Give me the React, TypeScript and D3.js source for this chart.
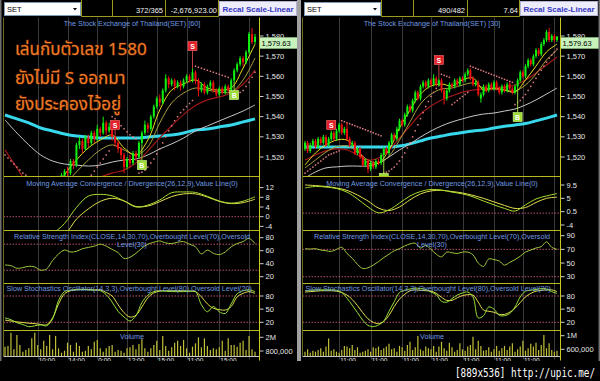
import React from "react";
import * as d3 from "d3";

// ================= LEFT CHART : SET [60] =================
const leftOpen = [1506,1503,1505,1501,1502,1499,1500,1497,1499,1496, 1498,1495,1497,1494,1496,1498,1500,1502,1505,1508, 1510,1513,1512,1518,1516,1526,1528,1524,1530,1527, 1532,1529,1534,1532,1537,1533,1535,1530,1527,1524, 1521,1515,1519,1517,1522,1520,1527,1532,1536,1534, 1540,1545,1549,1547,1553,1559,1556,1558,1555,1557, 1555,1558,1560,1558,1562,1558,1553,1556,1552,1555, 1557,1553,1551,1554,1552,1555,1553,1558,1563,1566, 1569,1567,1572,1581,1577];
const leftClose = [1503,1505,1501,1502,1499,1500,1497,1499,1496,1498, 1495,1497,1494,1496,1498,1500,1502,1505,1508,1511, 1513,1512,1518,1516,1526,1528,1524,1530,1527,1532, 1529,1534,1532,1537,1533,1535,1530,1527,1524,1521, 1515,1519,1517,1522,1520,1527,1532,1536,1534,1540, 1545,1549,1547,1553,1559,1556,1558,1555,1557,1555, 1558,1560,1558,1562,1558,1553,1556,1552,1555,1557, 1553,1551,1554,1552,1555,1553,1558,1563,1566,1569, 1567,1572,1581,1577,1579.63];
const leftHigh = [1507,1506,1506,1503,1503,1501,1501,1500,1500,1499, 1499,1498,1498,1497,1499,1501,1503,1506,1509,1512, 1514,1515,1519,1519,1527,1530,1529,1531,1531,1533, 1533,1536,1535,1540,1538,1537,1536,1531,1528,1525, 1522,1520,1521,1523,1523,1528,1533,1538,1537,1541, 1546,1550,1551,1554,1561,1560,1559,1559,1558,1558, 1559,1561,1561,1564,1563,1559,1557,1557,1556,1558, 1558,1554,1555,1555,1556,1556,1559,1564,1567,1570, 1570,1573,1582,1584,1581];
const leftLow = [1502,1502,1500,1499,1498,1497,1496,1496,1495,1495, 1494,1494,1493,1493,1495,1497,1499,1501,1504,1507, 1509,1510,1511,1514,1515,1524,1522,1523,1525,1526, 1527,1528,1530,1531,1531,1532,1528,1525,1522,1519, 1512,1514,1515,1516,1518,1519,1526,1531,1532,1533, 1539,1544,1545,1546,1552,1554,1555,1553,1554,1553, 1554,1557,1557,1557,1556,1550,1552,1551,1551,1554, 1552,1550,1550,1551,1551,1552,1551,1557,1562,1565, 1565,1566,1571,1576,1576];
// volume in thousands
const leftVolume = [1180,1240,2400,950,2200,1330,740,890,1030,1910, 2400,1330,950,1700,1240,2200,950,2110,1030,650, 830,1530,1330,740,1530,1240,740,830,1240,950, 1620,1760,1030,740,1030,1240,1330,740,890,830, 650,1030,1120,1330,950,1410,1820,1030,740,1030, 1330,1700,890,2110,1240,830,1120,1530,1700,1240, 1760,1030,650,1180,1470,2000,1120,1910,1240,890, 1030,950,1120,1700,830,1910,1330,1330,1180,1530, 1700,890,2110,950,740];
const leftSar = [1521,1519.5,1518,1516.5,1515,1513.5,1512,1511,1510,1509, 1508,1507,1506,1505.5,1505,1504.5,1504,1503.5,1503,1495, 1496,1497,1498,1499.5,1501,1503,1505,1507,1509,1511, 1513,1515,1517,1519,1521,1523,1540,1539,1537,1535.5, 1534,1532.5,1531,1530,1529,1512,1512.5,1513.5,1515,1517, 1519,1521.5,1524,1527,1530,1533,1535.5,1538,1540,1542, 1543.5,1545,1546.5,1548,1565,1564.5,1564,1563.5,1563,1562.5, 1562,1561.5,1561,1560.5,1560,1559.5,1550,1550.5,1551,1552, 1553,1555,1557,1559.5,1562];
// moving averages, one value every 4 bars
const leftMaCyan = [1540.8,1538.9,1536.9,1534.4,1532.9,1531.4,1530.4,1529.9,1529.4,1529.4,1529.4,1529.4,1529.9,1530.4,1530.9,1531.9,1533.4,1533.9,1534.9,1535.9,1537.4,1538.9];
const leftMaGray = [1538.4,1531.9,1526.0,1521.0,1518.0,1516.5,1516.0,1515.5,1516.0,1517.5,1518.5,1519.0,1521.0,1524.0,1526.5,1529.4,1532.9,1535.4,1537.9,1540.3,1542.8,1545.8];
const leftMaRed = [1523.5,1514.6,1506,1502,1501,1502,1504,1507,1510,1512,1513.5,1517,1523,1529.5,1535.5,1541,1545.5,1548.3,1549.8,1551.7,1556.2,1563.1];
const leftMaYellow = [1503,1501,1498,1496,1499,1511.1,1518.5,1524.5,1528.4,1530.9,1524.5,1521.0,1528.4,1543.3,1553.2,1556.2,1558.2,1554.2,1553.2,1554.2,1564.1,1576.0];
const leftMaOlive = [1505,1503,1500,1498,1499,1506.1,1512.6,1518.5,1523.5,1526.0,1523.5,1521.0,1525.0,1536.9,1546.8,1551.7,1554.2,1553.2,1552.2,1552.2,1558.2,1569.1];
// MACD, one value every 4 bars
const leftMacd = [-12,-12,-11.5,-10,-7,-2.8,3.8,8.5,9.2,8.6,6.5,4.0,4.8,6.9,9.9,10.2,10.0,8.4,6.5,5.6,6.4,8.2];
const leftMacdSignal = [-10,-10.5,-10.5,-10,-9.5,-7.5,-1.0,3.2,6.3,7.6,6.5,4.2,4.4,6.2,8.3,9.4,9.4,8.1,6.3,5.4,5.8,7.2];
// RSI and stochastics, one value every 2 bars
const leftRsi = [38,37,33,34,36,35,30,32,45,55, 61,58,59,63,65,67,70,67,62,57, 48,50,56,64,70,73,75,72,71,73, 74,70,66,55,61,56,54,58,66,71, 74,79,71];
const leftStochK = [30,26,19,15,10,12,14,12,28,70, 90,93,95,95,94,93,92,83,66,45, 32,23,35,65,82,90,92,91,90,90, 90,91,90,60,44,56,44,40,62,85, 92,94,90];
const leftStochD = [25,23,21,19.5,18,17,15,14.5,30,62, 85,92,94,95,95,94,94,88,80,60, 42,32,36,55,76,87,91,92,92,92, 92,91,90,78,62,52,49,48,56,78, 86,90,86];
const leftSignalIdx = [37, 46, 63, 77];
const leftSignalType = ["S", "B", "S", "B"];
const leftSignalPrice = [1535.9, 1516, 1575, 1550.7];
const leftGridIdx = [11, 21, 31, 41, 51, 61, 72, 82];
const leftTimeLabels = ["10:00", "14:00", "0:00", "12:00", "15:00", "11:00", "15:00"];
const leftMacdTicks = [12, 8, 4, 0, -4];
const leftRsiTicks = [80, 60, 40, 20];
const leftVolTicks = [2000, 800];
const leftVolTickLabels = ["2M", "800,000"];
const leftHeader = ["372/365", "-2,676,923.00"];

// ================= RIGHT CHART : SET [30] =================
const rightOpen = [1524,1527,1523,1526,1528,1525,1529,1527,1530,1526, 1529,1532,1529,1533,1536,1532,1534,1529,1526,1527, 1522,1524,1520,1516,1518,1514,1517,1515,1518,1517, 1521,1524,1522,1527,1531,1529,1534,1538,1536,1541, 1545,1543,1548,1552,1549,1555,1557,1555,1558,1556, 1559,1556,1558,1553,1549,1553,1556,1555,1558,1556, 1559,1558,1561,1563,1559,1556,1557,1549,1551,1555, 1553,1556,1554,1557,1554,1552,1555,1553,1556,1554, 1552,1555,1558,1562,1560,1565,1568,1566,1570,1573, 1571,1576,1578,1582,1578,1580,1578];
const rightClose = [1527,1523,1526,1528,1525,1529,1527,1530,1526,1529, 1532,1529,1533,1536,1532,1534,1529,1526,1527,1522, 1524,1520,1516,1518,1514,1517,1515,1518,1517,1521, 1524,1522,1527,1531,1529,1534,1538,1536,1541,1545, 1543,1548,1552,1549,1555,1557,1555,1558,1556,1559, 1556,1558,1553,1549,1553,1556,1555,1558,1556,1559, 1558,1561,1563,1559,1556,1557,1551,1551,1555,1553, 1556,1554,1557,1554,1552,1555,1553,1556,1554,1552, 1555,1558,1562,1560,1565,1568,1566,1570,1573,1571, 1576,1578,1582,1578,1580,1578,1579.63];
const rightHigh = [1528,1528,1527,1529,1529,1530,1530,1531,1531,1530, 1533,1533,1534,1537,1537,1535,1537,1530,1528,1528, 1525,1525,1521,1519,1519,1518,1518,1519,1519,1522, 1525,1525,1528,1532,1532,1535,1539,1539,1542,1546, 1546,1549,1553,1553,1556,1558,1558,1559,1559,1561, 1560,1559,1559,1554,1554,1557,1557,1559,1559,1560, 1560,1562,1564,1564,1560,1558,1558,1552,1556,1556, 1557,1557,1558,1558,1555,1556,1556,1557,1557,1555, 1556,1559,1563,1563,1566,1569,1569,1571,1574,1574, 1577,1579,1583,1584,1581,1581,1580];
const rightLow = [1523,1522,1522,1525,1524,1524,1526,1526,1525,1525, 1528,1528,1528,1532,1531,1531,1528,1525,1525,1521, 1521,1519,1515,1515,1512,1513,1514,1514,1516,1516, 1520,1521,1521,1526,1528,1528,1533,1535,1535,1540, 1542,1542,1547,1548,1548,1554,1554,1554,1555,1555, 1555,1555,1552,1546,1548,1552,1554,1554,1555,1555, 1557,1557,1560,1558,1555,1555,1550,1547,1550,1552, 1552,1553,1553,1553,1551,1551,1552,1552,1553,1551, 1551,1554,1557,1559,1559,1564,1565,1565,1569,1570, 1570,1575,1577,1577,1577,1577,1577];
const rightVolume = [530,600,500,560,530,580,630,530,680,920, 560,600,530,500,580,700,680,630,730,580, 660,500,530,560,600,530,660,630,680,580, 630,680,760,600,630,530,700,660,560,730, 820,580,660,990,600,560,680,630,600,700, 530,680,820,630,560,790,660,530,580,780, 600,560,680,730,970,600,850,700,560,580, 660,530,600,700,560,630,700,580,680,780, 530,600,680,850,560,630,760,680,790,580, 730,1020,630,780,580,530,560];
const rightSar = [1512,1513,1514,1515,1516,1517,1518,1519,1520,1521, 1521.5,1522,1522.5,1523,1538,1537.5,1537,1536.5,1536,1535.5, 1535,1534.5,1534,1533.5,1533,1532.5,1532,1531.5,1531,1530.5, 1512,1512.5,1513,1514,1515,1516.5,1518,1520,1522,1524.5, 1527,1530,1533,1536,1539,1542,1545,1547.5,1550,1552, 1554,1555.5,1561,1560.5,1560,1559.5,1546,1547,1548,1549, 1550,1551,1552,1565,1564.5,1564,1563.5,1563,1562.5,1562, 1561.5,1561,1560.5,1560,1559.5,1559,1558.5,1558,1557.5,1557, 1546,1547,1548,1549.5,1551,1553,1555,1557,1559,1561, 1563,1565,1567,1569,1570.5,1572,1573.5];
const rightMaCyan = [1525.0,1525.0,1525.0,1525.0,1525.0,1525.0,1525.0,1525.0,1525.0,1525.5,1526.5,1528.0,1529.4,1530.4,1531.4,1532.2,1532.9,1533.4,1534.4,1535.2,1535.9,1536.6,1537.9,1539.3,1540.8];
const rightMaGray = [1509.6,1512.6,1514.6,1515.1,1515.5,1515.5,1515.5,1517.0,1520.0,1523.5,1526.5,1529.9,1532.9,1535.4,1537.4,1538.9,1540.3,1541.3,1541.8,1542.8,1543.8,1545.8,1548.3,1551.2,1554.2];
const rightMaRed = [1518.5,1521.0,1523.0,1524.0,1523.5,1521.0,1518.5,1519.5,1523.5,1529.4,1535.4,1541.3,1545.3,1548.3,1550.3,1552.2,1553.2,1553.7,1554.2,1554.7,1555.7,1558.2,1561.7,1565.6,1569.6];
const rightMaYellow = [1516.0,1522.0,1526.0,1528.4,1528.4,1523.5,1517.0,1517.0,1523.5,1534.4,1543.3,1551.2,1555.2,1556.2,1555.2,1558.2,1559.2,1553.2,1554.2,1553.2,1552.2,1558.2,1565.1,1572.1,1576.0];
const rightMaOlive = [1514.6,1518.5,1522.5,1525.0,1525.5,1522.5,1518.5,1517.0,1520.5,1528.4,1537.4,1546.3,1551.2,1553.7,1554.2,1555.7,1556.7,1554.2,1553.7,1553.2,1552.7,1555.7,1561.2,1568.1,1573.1];
const rightMacd = [8.5,9.0,8.8,8.3,7.1,4.8,2.1,0.1,1.1,3.4,5.8,7.3,8.0,7.8,7.1,6.5,5.5,4.1,2.8,1.6,0.7,2.8,4.8,5.8,6.6];
const rightMacdSignal = [9.5,9.3,9.0,8.5,7.7,6.1,4.1,1.7,0.9,2.1,4.5,6.5,7.5,7.7,7.3,6.8,6.0,5.0,3.8,2.6,1.6,1.9,3.6,5.0,5.4];
const rightRsi = [71,70.5,71,69,68,67,70,73,64,57, 48,42,43,47,52,58,63,68,71,75, 78,79,72,76,70,63,59,66,65,64, 66,66,62,50,45,56,55,53,47,51, 55,60,66,69,72,74,81,73,70];
const rightStochK = [92,93,94,94,94,94,93,88,75,59, 42,25,13,10,14,23,45,67,88,93, 96,98,97,95,89,83,68,66,74,82, 87,89,78,30,35,55,50,36,35,40, 55,78,91,93,95,97,96,90,86];
const rightStochD = [89,90,91,92,92,92,91,88,82,72, 58,42,28,20,17,22,36,56,73,84, 92,94,93,92,91,86,77,70,70,76, 81,83,82,66,48,45,43,38,38,43, 52,65,78,86,91,93,94,94,90];
const rightSignalIdx = [10, 30, 51, 81];
const rightSignalType = ["S", "B", "S", "B"];
const rightSignalPrice = [1535.9, 1509.6, 1568.1, 1539.8];
const rightGridIdx = [13, 25, 37, 48, 60, 72, 83, 95];
const rightTimeLabels = ["11:00", "11:00", "11:00", "11:00", "11:00", "11:00", "11:00"];
const rightMacdTicks = [9.5, 5, 0.5, -4];
const rightRsiTicks = [90, 70, 50, 30];
const rightVolTicks = [1000, 600];
const rightVolTickLabels = ["1M", "600,000"];
const rightHeader = ["490/482", "7.64"];

const priceTicks = [1580, 1570, 1560, 1550, 1540, 1530, 1520];
const stochTicks = [80, 50, 20];
const lastPrice = 1579.63;

const FONT = "'Liberation Sans', Arial, sans-serif";
const THAI = "'Noto Sans Thai', 'Noto Sans Thai UI', Loma, Garuda, Waree, 'Tlwg Typo', 'DejaVu Sans', sans-serif";

const P = { top: 17.5, price: 176.5, macd: 230.5, rsi: 283.5, stoch: 330.5, vol: 356.5 };

type Cfg = {
  id: string; ox: number; xRange: [number, number]; axisX: number; plotL: number;
  open: number[]; close: number[]; high: number[]; low: number[]; volume: number[]; sar: number[];
  maCyan: number[]; maGray: number[]; maRed: number[]; maYellow: number[]; maOlive: number[];
  macd: number[]; macdSignal: number[]; rsi: number[]; stochK: number[]; stochD: number[];
  sigIdx: number[]; sigType: string[]; sigPrice: number[];
  gridIdx: number[]; timeLabels: string[];
  macdTicks: number[]; macdDomain: [number, number]; macdRange: [number, number]; macdZero: number;
  rsiTicks: number[]; rsiDomain: [number, number]; rsiRange: [number, number]; rsiLevels: number[];
  volTicks: number[]; volTickLabels: string[]; volDomain: [number, number]; volRange: [number, number];
  title: string; header: string[]; headerX: number[]; headerLines: number[]; button: [number, number];
};

const leftCfg: Cfg = {
  id: "L", ox: 0, xRange: [5, 255], axisX: 259.5, plotL: 3.5,
  open: leftOpen, close: leftClose, high: leftHigh, low: leftLow, volume: leftVolume, sar: leftSar,
  maCyan: leftMaCyan, maGray: leftMaGray, maRed: leftMaRed, maYellow: leftMaYellow, maOlive: leftMaOlive,
  macd: leftMacd, macdSignal: leftMacdSignal, rsi: leftRsi, stochK: leftStochK, stochD: leftStochD,
  sigIdx: leftSignalIdx, sigType: leftSignalType, sigPrice: leftSignalPrice,
  gridIdx: leftGridIdx, timeLabels: leftTimeLabels,
  macdTicks: leftMacdTicks, macdDomain: [-4, 12], macdRange: [226.4, 187.6], macdZero: 0,
  rsiTicks: leftRsiTicks, rsiDomain: [20, 80], rsiRange: [276.7, 237.7], rsiLevels: [70, 30],
  volTicks: leftVolTicks, volTickLabels: leftVolTickLabels, volDomain: [800, 2000], volRange: [351, 337.3],
  title: "The Stock Exchange of Thailand(SET) [60]", header: leftHeader, headerX: [163, 217],
  headerLines: [81.5, 112.5, 165.5, 218.5], button: [219.5, 77],
};
const rightCfg: Cfg = {
  id: "R", ox: 300, xRange: [305, 557], axisX: 560.5, plotL: 302.5,
  open: rightOpen, close: rightClose, high: rightHigh, low: rightLow, volume: rightVolume, sar: rightSar,
  maCyan: rightMaCyan, maGray: rightMaGray, maRed: rightMaRed, maYellow: rightMaYellow, maOlive: rightMaOlive,
  macd: rightMacd, macdSignal: rightMacdSignal, rsi: rightRsi, stochK: rightStochK, stochD: rightStochD,
  sigIdx: rightSignalIdx, sigType: rightSignalType, sigPrice: rightSignalPrice,
  gridIdx: rightGridIdx, timeLabels: rightTimeLabels,
  macdTicks: rightMacdTicks, macdDomain: [-4, 9.5], macdRange: [225, 185], macdZero: 0,
  rsiTicks: rightRsiTicks, rsiDomain: [30, 90], rsiRange: [276.7, 235.7], rsiLevels: [70, 30],
  volTicks: rightVolTicks, volTickLabels: rightVolTickLabels, volDomain: [600, 1000], volRange: [349.3, 335.7],
  title: "The Stock Exchange of Thailand(SET) [30]", header: rightHeader, headerX: [465, 518],
  headerLines: [381.5, 413.5, 467.5, 519.5], button: [520.5, 77],
};

function Panel({ c }: { c: Cfg }) {
  const n = c.open.length;
  const x = d3.scaleLinear().domain([0, n - 1]).range(c.xRange);
  const yP = d3.scaleLinear().domain([1520, 1580]).range([157, 36]);
  const yM = d3.scaleLinear().domain(c.macdDomain).range(c.macdRange);
  const yR = d3.scaleLinear().domain(c.rsiDomain).range(c.rsiRange);
  const yS = d3.scaleLinear().domain([20, 80]).range([322.3, 296]);
  const yV = d3.scaleLinear().domain(c.volDomain).range(c.volRange);
  const mk = (arr: number[], step: number, y: d3.ScaleLinear<number, number>) =>
    d3.line<number>().x((_, k) => x(k * step)).y((d) => y(d)).curve(d3.curveCatmullRom.alpha(0.5))(arr) || "";
  const cx = c.ox + 132;
  const W = c.axisX - c.plotL;
  const clip = (name: string, y0: number, y1: number) => (
    <clipPath id={`${name}${c.id}`}>
      <rect x={c.plotL + 0.5} y={y0 + 0.5} width={W - 1} height={y1 - y0 - 1} />
    </clipPath>
  );
  const tickLabel = (y: number, label: string, key: string | number) => (
    <g key={key}>
      <line x1={c.axisX} x2={c.axisX + 4} y1={y} y2={y} stroke="#d0d0d0" strokeWidth={1} />
      <text x={c.axisX + 6} y={y + 2.6} fontSize={7.5} fill="#e6e6e6" fontFamily={FONT}>{label}</text>
    </g>
  );
  const title = { fontSize: 7.2, fill: "#6f9be0", fontFamily: FONT } as const;
  const lvl = { stroke: "#b8506a", strokeWidth: 1, strokeDasharray: "1.5,1.5" } as const;
  return (
    <g>
      <defs>
        {clip("cp", P.top, P.price)}
        {clip("cm", P.price, P.macd)}
        {clip("cr", P.macd, P.rsi)}
        {clip("cs", P.rsi, P.stoch)}
        {clip("cv", P.stoch, P.vol)}
        <clipPath id={`ct${c.id}`}>
          <rect x={c.ox} y={P.vol + 0.5} width={300} height={361 - P.vol - 0.5} />
        </clipPath>
      </defs>
      {/* header */}
      <rect x={c.ox + 4.5} y={2.5} width={76} height={13} fill="#ffffff" stroke="#7f9db9" />
      <text x={c.ox + 7} y={12} fontSize={7.5} fill="#000" fontFamily={FONT}>SET</text>
      <path d={`M${c.ox + 73},8 L${c.ox + 77},8 L${c.ox + 75},10.5 Z`} fill="#000" />
      {c.headerLines.map((hx, k) => (
        <line key={k} x1={hx} x2={hx} y1={0} y2={16.5} stroke="#9a9a20" />
      ))}
      <line x1={c.headerLines[0]} x2={c.headerLines[3]} y1={16.5} y2={16.5} stroke="#9a9a20" />
      {c.header.map((t, k) => (
        <text key={k} x={c.headerX[k]} y={12.5} fontSize={7.5} fill="#f0f0f0" textAnchor="end" fontFamily={FONT}>{t}</text>
      ))}
      <rect x={c.button[0]} y={1.5} width={c.button[1]} height={14} fill="#ececfa" stroke="#b4b4d4" />
      <text x={c.button[0] + c.button[1] / 2} y={12} fontSize={8} fontWeight="bold" fill="#3434c0" textAnchor="middle" fontFamily={FONT}>Recal Scale-Linear</text>

      {/* vertical grid */}
      {c.gridIdx.map((gi, k) => (
        <line key={k} x1={Math.round(x(gi)) + 0.5} x2={Math.round(x(gi)) + 0.5} y1={P.top} y2={P.vol + 3} stroke="#3a3a3a" />
      ))}

      {/* price pane */}
      <text x={cx} y={25.5} textAnchor="middle" {...title}>{c.title}</text>
      <g clipPath={`url(#cp${c.id})`}>
        <path d={mk(c.maCyan, 4, yP)} fill="none" stroke="#38d8ec" strokeWidth={3} />
        <path d={mk(c.maGray, 4, yP)} fill="none" stroke="#c8c8c8" strokeWidth={1} />
        <path d={mk(c.maRed, 4, yP)} fill="none" stroke="#a01818" strokeWidth={1.2} />
        <path d={mk(c.maOlive, 4, yP)} fill="none" stroke="#a8a040" strokeWidth={1} />
        <path d={mk(c.maYellow, 4, yP)} fill="none" stroke="#e8e020" strokeWidth={1} />
        {c.sar.map((s, i) => (
          <rect key={i} x={x(i) - 0.75} y={yP(s) - 0.75} width={1.5} height={1.5} fill="#e07c80" />
        ))}
        {c.open.map((o, i) => {
          const cl = c.close[i];
          const up = cl >= o;
          const col = up ? "#10f010" : "#f01010";
          const yt = yP(Math.max(o, cl));
          const h = Math.max(1, Math.abs(yP(o) - yP(cl)));
          return (
            <g key={i}>
              <line x1={x(i)} x2={x(i)} y1={yP(c.high[i])} y2={yP(c.low[i])} stroke={col} strokeWidth={1} />
              <rect x={x(i) - 1} y={yt} width={2} height={h} fill={col} />
            </g>
          );
        })}
        {c.sigIdx.map((si, k) => {
          const isS = c.sigType[k] === "S";
          const mx = x(si);
          const my = yP(c.sigPrice[k]);
          const cy2 = isS ? yP(c.high[si]) : yP(c.low[si]);
          return (
            <g key={k}>
              <line x1={mx} x2={mx} y1={isS ? my + 4.5 : my - 4.5} y2={cy2} stroke={isS ? "#c04040" : "#98d040"} strokeWidth={1} />
              <rect x={mx - 4.5} y={my - 4.5} width={9} height={9} fill={isS ? "#e32028" : "#9cdc34"} stroke={isS ? "#ff7070" : "#d8ff90"} strokeWidth={0.6} />
              <text x={mx} y={my + 2.6} textAnchor="middle" fontSize={7} fontWeight="bold" fill="#ffffff" fontFamily={FONT}>{c.sigType[k]}</text>
            </g>
          );
        })}
      </g>
      {priceTicks.map((t) => tickLabel(yP(t), d3.format(",")(t), t))}
      <rect x={c.axisX} y={37.5} width={38.5} height={11} fill="#c8f2bc" stroke="#90c880" strokeWidth={0.6} />
      <text x={c.axisX + 2} y={46} fontSize={7.5} fill="#000" fontFamily={FONT}>{d3.format(",.2f")(lastPrice)}</text>

      {/* MACD */}
      <text x={cx} y={186} textAnchor="middle" {...title}>Moving Average Convergence / Divergence(26,12,9),Value Line(0)</text>
      <g clipPath={`url(#cm${c.id})`}>
        <line x1={c.plotL} x2={c.axisX} y1={yM(c.macdZero)} y2={yM(c.macdZero)} {...lvl} />
        <path d={mk(c.macdSignal, 4, yM)} fill="none" stroke="#e4e050" strokeWidth={1} />
        <path d={mk(c.macd, 4, yM)} fill="none" stroke="#a8dc30" strokeWidth={1} />
      </g>
      {c.macdTicks.map((t) => tickLabel(yM(t), String(t), t))}

      {/* RSI */}
      <g clipPath={`url(#cr${c.id})`}>
        {c.rsiLevels.map((l) => (
          <line key={l} x1={c.plotL} x2={c.axisX} y1={yR(l)} y2={yR(l)} {...lvl} />
        ))}
        <path d={mk(c.rsi, 2, yR)} fill="none" stroke="#a0c83c" strokeWidth={1} />
      </g>
      <text x={cx} y={239} textAnchor="middle" {...title}>Relative Strength Index(CLOSE,14,30,70),Overbought Level(70),Oversold</text>
      <text x={cx} y={247} textAnchor="middle" {...title}>Level(30)</text>
      {c.rsiTicks.map((t) => tickLabel(yR(t), String(t), t))}

      {/* Stochastics */}
      <g clipPath={`url(#cs${c.id})`}>
        {[80, 20].map((l) => (
          <line key={l} x1={c.plotL} x2={c.axisX} y1={yS(l)} y2={yS(l)} {...lvl} />
        ))}
        <path d={mk(c.stochD, 2, yS)} fill="none" stroke="#e4e050" strokeWidth={1} />
        <path d={mk(c.stochK, 2, yS)} fill="none" stroke="#98e038" strokeWidth={1} />
      </g>
      <text x={c.plotL + 3} y={291} {...title}>Slow Stochastics Oscillator(14,3,3),Overbought Level(80),Oversold Level(20)</text>
      {stochTicks.map((t) => tickLabel(yS(t), String(t), t))}

      {/* Volume */}
      <g clipPath={`url(#cv${c.id})`}>
        {c.volume.map((v, i) => (
          <line key={i} x1={x(i)} x2={x(i)} y1={P.vol} y2={yV(v)} stroke="#c0bf38" strokeWidth={1.2} />
        ))}
      </g>
      <text x={cx} y={339} textAnchor="middle" {...title}>Volume</text>
      {c.volTicks.map((t, k) => tickLabel(yV(t), c.volTickLabels[k], t))}

      {/* frame lines */}
      {[P.price, P.macd, P.rsi, P.stoch].map((yy) => (
        <line key={yy} x1={c.plotL} x2={c.axisX} y1={yy} y2={yy} stroke="#b8b820" strokeWidth={1} />
      ))}
      <line x1={c.plotL} x2={c.axisX} y1={P.vol} y2={P.vol} stroke="#c8c8c8" strokeWidth={1} />
      <line x1={c.plotL} x2={c.plotL} y1={P.top} y2={P.vol} stroke="#6a6a20" strokeWidth={1} />
      <line x1={c.axisX} x2={c.axisX} y1={P.top} y2={P.vol + 4} stroke="#c8c820" strokeWidth={1} />

      {/* time labels (cut by the bottom of the screenshot) */}
      <g clipPath={`url(#ct${c.id})`}>
        {c.timeLabels.map((t, k) => (
          <text key={k} x={x(c.gridIdx[k]) + 1} y={362.5} fontSize={6.5} fill="#e6e6e6" fontFamily={FONT}>{t}</text>
        ))}
      </g>
    </g>
  );
}

const thaiLines = ["เล่นกับตัวเลข 1580", "ยังไม่มี S ออกมา", "ยังประคองไว้อยู่"];
const thaiBaselines = [55, 84, 110];

export default function App() {
  return (
    <svg width={600} height={381} style={{ position: "absolute", left: 0, top: 0, background: "#000" }}>
      <rect x={0} y={0} width={600} height={381} fill="#000" />
      <Panel c={leftCfg} />
      <Panel c={rightCfg} />
      {thaiLines.map((t, k) => (
        <text key={k} x={15} y={thaiBaselines[k]} fontSize={17} fill="#f07a26" stroke="#4a1c00" strokeWidth={1.2}
          style={{ paintOrder: "stroke" }} fontFamily={THAI}>{t}</text>
      ))}
      {/* separators */}
      <rect x={297} y={0} width={4} height={361} fill="#a0a0a0" />
      <rect x={0} y={0} width={1.5} height={361} fill="#707070" />
      <rect x={598.5} y={0} width={1.5} height={361} fill="#707070" />
      <rect x={0} y={361} width={600} height={20} fill="#000" />
      <text x={455} y={377} fontSize={13} fill="#ffffff" fontFamily="'DejaVu Sans Mono', monospace" textLength={140} lengthAdjust="spacingAndGlyphs">[889x536] http://upic.me/</text>
    </svg>
  );
}
